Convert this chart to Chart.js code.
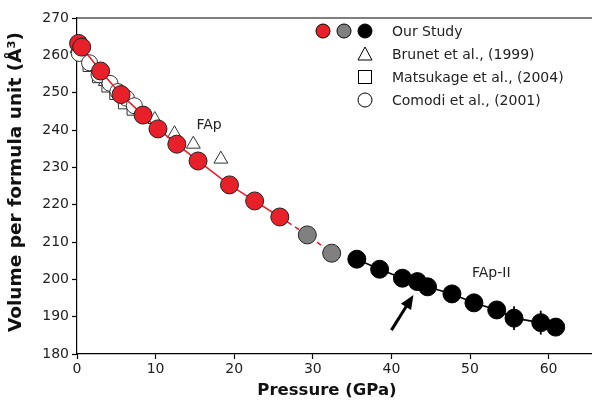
<!DOCTYPE html>
<html>
<head>
<meta charset="utf-8">
<script src="https://cdn.jsdelivr.net/npm/chart.js@4.4.1/dist/chart.umd.min.js"></script>
<style>
  html, body { margin: 0; padding: 0; background: #fff; overflow: hidden; }
  #wrap { width: 592px; height: 401px; overflow: hidden; }
</style>
</head>
<body>
<div id="wrap"><canvas id="eosChart" width="605" height="401"></canvas></div>
<script>
// Datos (P en GPa, V en Å³)
const redP = [0.2, 0.6, 3.0, 5.6, 8.4, 10.3, 12.7, 15.4, 19.4, 22.6, 25.8];
const redV = [263.2, 262.2, 255.8, 249.5, 244.0, 240.3, 236.2, 231.7, 225.3, 221.0, 216.7];
const grayP = [29.3, 32.4];
const grayV = [211.9, 207.0];
const blackP = [35.6, 38.5, 41.4, 43.3, 44.6, 47.7, 50.5, 53.4, 55.6, 59.0, 60.9];
const blackV = [205.4, 202.7, 200.3, 199.4, 198.0, 196.1, 193.7, 191.8, 189.6, 188.4, 187.2];
const blackErr = [0, 0, 0, 0, 0, 0, 0, 0, 3.2, 3.2, 0];

const brunetP = [0.0, 1.8, 3.6, 5.4, 7.3, 9.9, 12.4, 14.8, 18.3];
const brunetV = [261.8, 257.5, 253.0, 249.3, 245.5, 242.8, 239.0, 236.2, 232.2];
const matsuP = [0.0, 1.4, 2.6, 3.8, 4.8, 5.9, 7.0];
const matsuV = [261.0, 257.0, 254.0, 251.5, 249.5, 247.0, 245.3];
const comodiP = [0.3, 1.6, 2.8, 4.2, 5.2, 6.3, 7.3];
const comodiV = [260.5, 258.0, 254.8, 252.5, 250.3, 248.5, 246.5];

const xTicks = [0, 10, 20, 30, 40, 50, 60];
const yTicks = [180, 190, 200, 210, 220, 230, 240, 250, 260, 270];

const RED = '#e8202a';
const GRAY = '#808080';

function pts(xs, ys) {
  return xs.map((x, i) => ({ x: x, y: ys[i] }));
}

// tramo discontinuo: del último punto rojo a los grises
const dashP = [redP[redP.length - 1]].concat(grayP);
const dashV = [redV[redV.length - 1]].concat(grayV);

// Plugin: borde superior, títulos, barras de error, flecha, textos y leyenda
const extras = {
  id: 'extras',
  afterDatasetsDraw(chart) {
    const c = chart.ctx;
    const xs = chart.scales.x, ys = chart.scales.y;
    const a = chart.chartArea;
    c.save();
    // borde superior
    c.strokeStyle = '#000';
    c.lineWidth = 1.2;
    c.beginPath();
    c.moveTo(a.left, a.top);
    c.lineTo(a.right, a.top);
    c.stroke();

    // títulos de ejes
    c.fillStyle = '#111';
    c.textAlign = 'center';
    c.textBaseline = 'middle';
    c.font = 'bold 16.5px "DejaVu Sans"';
    c.fillText('Pressure (GPa)', 327, 391);
    c.save();
    c.translate(16, 182);
    c.rotate(-Math.PI / 2);
    c.font = 'bold 18.5px "DejaVu Sans"';
    c.fillText('Volume per formula unit (Å³)', 0, 0);
    c.restore();

    // barras de error
    c.strokeStyle = '#000';
    c.lineWidth = 1.8;
    blackP.forEach((p, i) => {
      if (!blackErr[i]) return;
      const px = xs.getPixelForValue(p);
      c.beginPath();
      c.moveTo(px, ys.getPixelForValue(blackV[i] - blackErr[i]));
      c.lineTo(px, ys.getPixelForValue(blackV[i] + blackErr[i]));
      c.stroke();
    });

    // flecha
    const x0 = xs.getPixelForValue(40.0), y0 = ys.getPixelForValue(186.4);
    const x1 = xs.getPixelForValue(42.8), y1 = ys.getPixelForValue(195.8);
    const ang = Math.atan2(y1 - y0, x1 - x0);
    c.lineWidth = 3;
    c.beginPath();
    c.moveTo(x0, y0);
    c.lineTo(x1 - 8 * Math.cos(ang), y1 - 8 * Math.sin(ang));
    c.stroke();
    c.fillStyle = '#000';
    c.beginPath();
    c.moveTo(x1, y1);
    c.lineTo(x1 - 14 * Math.cos(ang) + 6 * Math.sin(ang), y1 - 14 * Math.sin(ang) - 6 * Math.cos(ang));
    c.lineTo(x1 - 14 * Math.cos(ang) - 6 * Math.sin(ang), y1 - 14 * Math.sin(ang) + 6 * Math.cos(ang));
    c.closePath();
    c.fill();

    // etiquetas de fase
    c.fillStyle = '#222';
    c.font = '14px "DejaVu Sans"';
    c.textAlign = 'center';
    c.textBaseline = 'middle';
    c.fillText('FAp', xs.getPixelForValue(16.8), ys.getPixelForValue(241.3));
    c.fillText('FAp-II', xs.getPixelForValue(52.7), ys.getPixelForValue(201.7));

    // leyenda
    const lx = 392, rows = [31, 54, 77, 100];
    c.textAlign = 'left';
    c.font = '14px "DejaVu Sans"';
    c.fillStyle = '#222';
    ['Our Study', 'Brunet et al., (1999)', 'Matsukage et al., (2004)', 'Comodi et al., (2001)']
      .forEach((t, i) => c.fillText(t, lx, rows[i] + 1));
    [[323, RED], [344, GRAY], [365, '#000']].forEach(([cx, col]) => {
      c.beginPath();
      c.arc(cx, rows[0], 7, 0, Math.PI * 2);
      c.fillStyle = col;
      c.fill();
      c.lineWidth = 1;
      c.strokeStyle = '#000';
      c.stroke();
    });
    c.lineWidth = 1;
    c.strokeStyle = '#000';
    c.beginPath();
    c.moveTo(365, rows[1] - 7);
    c.lineTo(372, rows[1] + 6);
    c.lineTo(358, rows[1] + 6);
    c.closePath();
    c.stroke();
    c.strokeRect(358.5, rows[2] - 6.5, 13, 13);
    c.beginPath();
    c.arc(365, rows[3], 7, 0, Math.PI * 2);
    c.stroke();
    c.restore();
  }
};

const open = { backgroundColor: '#fff', borderColor: '#333', borderWidth: 1, pointRadius: 8, showLine: false };

new Chart(document.getElementById('eosChart'), {
  type: 'scatter',
  data: {
    datasets: [
      Object.assign({ label: 'Brunet', data: pts(brunetP, brunetV), pointStyle: 'triangle', order: 9 }, open),
      Object.assign({ label: 'Matsukage', data: pts(matsuP, matsuV), pointStyle: 'rect', order: 8 }, open, { pointRadius: 7 }),
      Object.assign({ label: 'Comodi', data: pts(comodiP, comodiV), pointStyle: 'circle', order: 7 }, open),
      { label: 'fit', data: pts(redP, redV), showLine: true, borderColor: RED, borderWidth: 1.6, pointRadius: 0, order: 6 },
      { label: 'fit2', data: pts(dashP, dashV), showLine: true, borderColor: RED, borderWidth: 1.6, borderDash: [5, 4], pointRadius: 0, order: 6 },
      { label: 'fit3', data: pts(blackP, blackV), showLine: true, borderColor: '#000', borderWidth: 1.6, pointRadius: 0, order: 6 },
      { label: 'red', data: pts(redP, redV), backgroundColor: RED, borderColor: '#222', borderWidth: 1, pointRadius: 9, order: 3 },
      { label: 'gray', data: pts(grayP, grayV), backgroundColor: GRAY, borderColor: '#222', borderWidth: 1, pointRadius: 9, order: 2 },
      { label: 'black', data: pts(blackP, blackV), backgroundColor: '#000', borderColor: '#000', borderWidth: 1, pointRadius: 9, order: 1 }
    ]
  },
  options: {
    responsive: false,
    animation: false,
    clip: false,
    layout: { padding: { left: 0, right: 0, top: 18, bottom: 0 } },
    plugins: { legend: { display: false }, tooltip: { enabled: false } },
    scales: {
      x: {
        type: 'linear', min: 0, max: 65.9,
        afterBuildTicks: s => { s.ticks = xTicks.map(v => ({ value: v })); },
        afterFit: s => { s.height = 47; },
        grid: { drawOnChartArea: false, drawTicks: true, tickLength: 5, color: '#000', tickWidth: 1.2 },
        border: { display: true, color: '#000', width: 1.2 },
        ticks: { color: '#222', font: { family: 'DejaVu Sans', size: 14 }, padding: 2, maxRotation: 0 }
      },
      y: {
        type: 'linear', min: 180, max: 270,
        afterBuildTicks: s => { s.ticks = yTicks.map(v => ({ value: v })); },
        afterFit: s => { s.width = 77; },
        grid: { drawOnChartArea: false, drawTicks: true, tickLength: 5, color: '#000', tickWidth: 1.2 },
        border: { display: true, color: '#000', width: 1.2 },
        ticks: { color: '#222', font: { family: 'DejaVu Sans', size: 14 }, padding: 3 }
      }
    }
  },
  plugins: [extras]
});
</script>
</body>
</html>
